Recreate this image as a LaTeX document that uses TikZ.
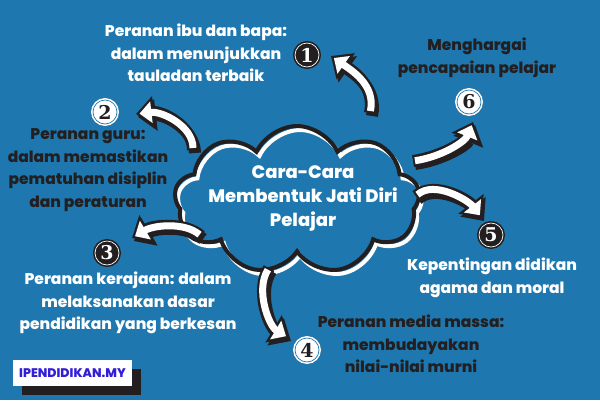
\documentclass[tikz,border=0pt]{standalone}
\usepackage{fontspec}
\setmainfont{Poppins}[BoldFont={* ExtraBold}]
\newfontfamily\digitfont{DejaVu Serif}
\usetikzlibrary{shapes.symbols,arrows.meta}
\definecolor{bgblue}{RGB}{30,120,175}
\definecolor{ink}{RGB}{35,31,32}
\definecolor{markblue}{RGB}{50,30,215}
\tikzset{
  arrowedge/.style={draw=ink, line width=12pt, -{Triangle[length=18pt,width=31pt]}},
  arrowshade/.style={arrowedge, transform canvas={xshift=2pt,yshift=-3pt}},
  arrowbody/.style={draw=white, line width=7pt, shorten <=2pt, shorten >=3.5pt, -{Triangle[length=12pt,width=21pt]}},
  numdark/.style={circle, fill=ink, draw=white, line width=0.7pt, minimum size=24pt, inner sep=0pt,
    text=white, font=\digitfont\bfseries\fontsize{19}{19}\selectfont, preaction={draw=ink, line width=4pt}},
  numlight/.style={numdark, fill=white, draw=bgblue, text=ink, preaction={draw=white, line width=4pt}},
  labelwhite/.style={align=center, text=white, font=\bfseries\fontsize{15.5}{22.5}\selectfont},
  labeldark/.style={labelwhite, text=ink},
  puffs/.style={cloud, cloud puffs=9, cloud puff arc=130, aspect=1.65, line width=4pt,
    minimum width=245pt, minimum height=148pt},
}
\newcommand{\fatarrow}[1]{%
  \path[arrowshade] #1;
  \path[arrowedge] #1;
  \path[arrowbody] #1;
}
\begin{document}
\begin{tikzpicture}[x=1pt, y=-1pt]
    \fill[bgblue] (0,0) rectangle (600,400);
    \useasboundingbox (0,0) rectangle (600,400);

    % central cloud
    \node[puffs, draw=white] (cloudshade) at (300,204) {};
    \node[puffs, draw=ink] (cloud) at (297,200) {};
    \node[labelwhite, font=\bfseries\fontsize{18}{24}\selectfont] (title) at (303,198) {Cara-Cara\\Membentuk Jati Diri\\Pelajar};

    % numbers
    \node[numdark] (n1) at (307,55) {1};
    \node[numlight] (n2) at (105,112) {2};
    \node[numdark] (n3) at (107,253) {3};
    \node[numlight] (n4) at (307,350) {4};
    \node[numdark] (n5) at (491,235) {5};
    \node[numlight] (n6) at (469,102) {6};

    % labels
    \node[labelwhite] (t1) at (196,53) {Peranan ibu dan bapa:\\dalam menunjukkan\\tauladan terbaik};
    \node[labeldark] (t2) at (88,170) {Peranan guru:\\dalam memastikan\\pematuhan disiplin\\dan peraturan};
    \node[labelwhite] (t3) at (128,303) {Peranan kerajaan: dalam\\melaksanakan dasar\\pendidikan yang berkesan};
    \node[labeldark] (t4) at (411,344) {Peranan media massa:\\membudayakan\\nilai-nilai murni};
    \node[labelwhite] (t5) at (492,278) {Kepentingan didikan\\agama dan moral};
    \node[labeldark] (t6) at (477,58) {Menghargai\\pencapaian pelajar};

    % arrows out of the cloud
    \coordinate (a1) at (370,113); \coordinate (b1) at (331,56);
    \coordinate (a2) at (193,150); \coordinate (b2) at (136,114);
    \coordinate (a3) at (201,236); \coordinate (b3) at (132,238);
    \coordinate (a4) at (269,268); \coordinate (b4) at (289,338);
    \coordinate (a5) at (416,196); \coordinate (b5) at (482,218);
    \coordinate (a6) at (413,161); \coordinate (b6) at (473,122);
    \fatarrow{(a1) .. controls +(6,-28) and +(20,14) .. (b1)}
    \fatarrow{(a2) .. controls +(0,-24) and +(26,-3) .. (b2)}
    \fatarrow{(a3) .. controls +(-16,-14) and +(22,-13) .. (b3)}
    \fatarrow{(a4) .. controls +(-14,22) and +(-20,-12) .. (b4)}
    \fatarrow{(a5) .. controls +(18,-16) and +(-14,-18) .. (b5)}
    \fatarrow{(a6) .. controls +(28,-4) and +(-8,20) .. (b6)}

    % watermark
    \fill[ink] (22,369) rectangle (141,395);
    \node[fill=white, minimum width=119pt, minimum height=26pt, inner sep=0pt, text=markblue,
      font=\bfseries\fontsize{12.5}{14}\selectfont] (mark) at (72.5,373) {IPENDIDIKAN.MY};
\end{tikzpicture}
\end{document}
